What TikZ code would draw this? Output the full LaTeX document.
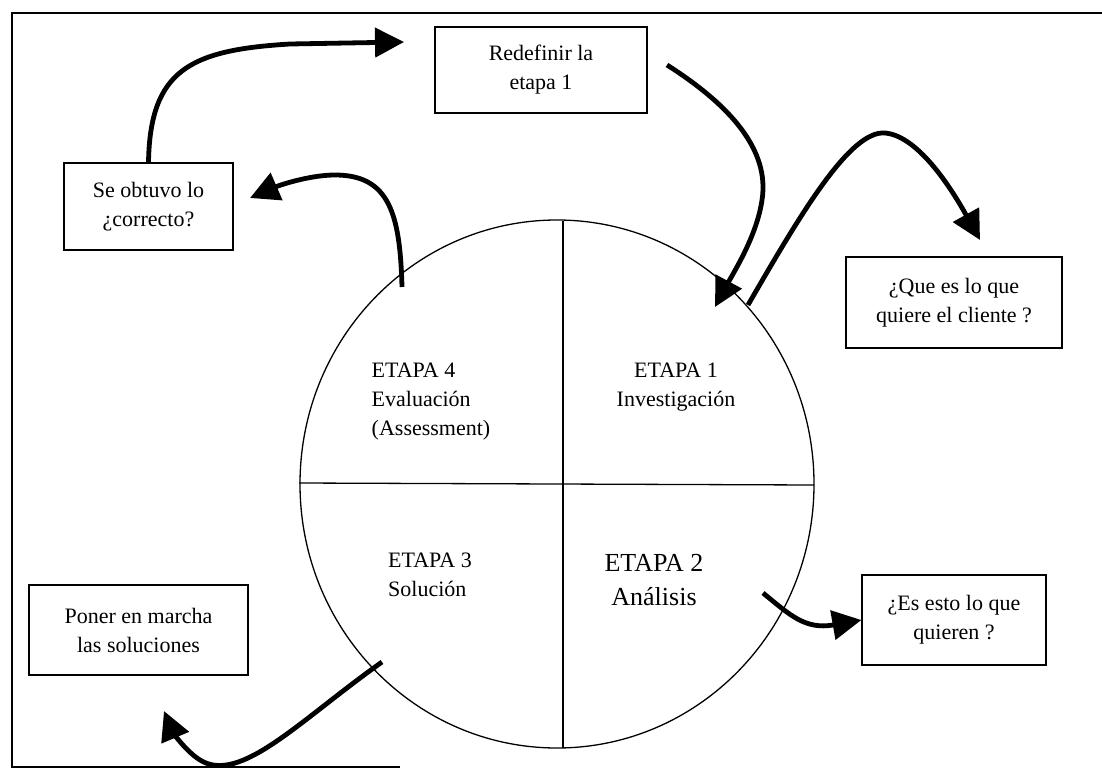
\documentclass[tikz,border=0pt]{standalone}
\usepackage{fontspec}
\setmainfont{Liberation Serif}
\usetikzlibrary{arrows.meta}
\begin{document}
\begin{tikzpicture}[x=1pt,y=-1pt,
  txt/.style={font=\fontsize{22}{29}\selectfont, align=center, inner sep=0pt},
  bigtxt/.style={font=\fontsize{26}{34}\selectfont, align=center, inner sep=0pt},
  box/.style={draw, line width=1.2pt, txt},
  flow/.style={line width=4.8pt, -{Triangle[length=29pt,width=29pt]}},
  thin/.style={line width=1.3pt}]
\useasboundingbox (0,0) rectangle (1102,781);

% frame (left, top and part of the bottom edge)
\draw[thin] (1102,13) -- (12,13) -- (12,767) -- (400,767);

% the cycle, split into four stages
\draw[thin] (557,484) ellipse [x radius=257, y radius=264];
\draw[thin] (563,221) -- (563,748);
\draw[thin] (299,483) -- (814,485);

\node[txt, align=left] (e4) at (431,402) {ETAPA 4\\Evaluación\\(Assessment)};
\node[txt] (e1) at (676,387) {ETAPA 1\\Investigación};
\node[txt, align=left] (e3) at (430,575) {ETAPA 3\\Solución};
\node[bigtxt] (e2) at (654,580) {ETAPA 2\\Análisis};

% question / action boxes
\node[box, minimum width=212pt, minimum height=86pt] (redef) at (541,70) {Redefinir la\\etapa 1};
\node[box, minimum width=169pt, minimum height=87pt] (obt) at (148.5,206.5) {Se obtuvo lo\\¿correcto?};
\node[box, minimum width=216pt, minimum height=91pt] (cli) at (954,302.5) {¿Que es lo que\\quiere el cliente ?};
\node[box, minimum width=219pt, minimum height=90pt] (pon) at (138.5,630) {Poner en marcha\\las soluciones};
\node[box, minimum width=184pt, minimum height=90pt] (quie) at (954,620) {¿Es esto lo que\\quieren ?};

% ends of the curved arrows
\coordinate (t1) at (404,42);
\coordinate (s2) at (402,287);
\coordinate (t2) at (250,198);
\coordinate (s3) at (667,65);
\coordinate (t3) at (715,307);
\coordinate (s4) at (748,305);
\coordinate (t4) at (980,240);
\coordinate (s5) at (763,593);
\coordinate (s6) at (382,662);
\coordinate (t6) at (164,711);

\draw[flow] (obt.north) .. controls (150,70) and (190,50) .. (290,44) -- (t1);
\draw[flow] (s2) .. controls (400,215) and (390,175) .. (335,175) .. controls (310,175) and (280,185) .. (t2);
\draw[flow] (s3) .. controls (730,105) and (770,150) .. (762,200) .. controls (757,235) and (735,270) .. (t3);
\draw[flow] (s4) .. controls (800,215) and (850,130) .. (885,133) .. controls (920,136) and (955,195) .. (t4);
\draw[flow] (s5) .. controls (790,615) and (805,630) .. (quie.west);
\draw[flow] (s6) .. controls (300,720) and (240,785) .. (200,760) .. controls (184,750) and (172,730) .. (t6);
\end{tikzpicture}
\end{document}
